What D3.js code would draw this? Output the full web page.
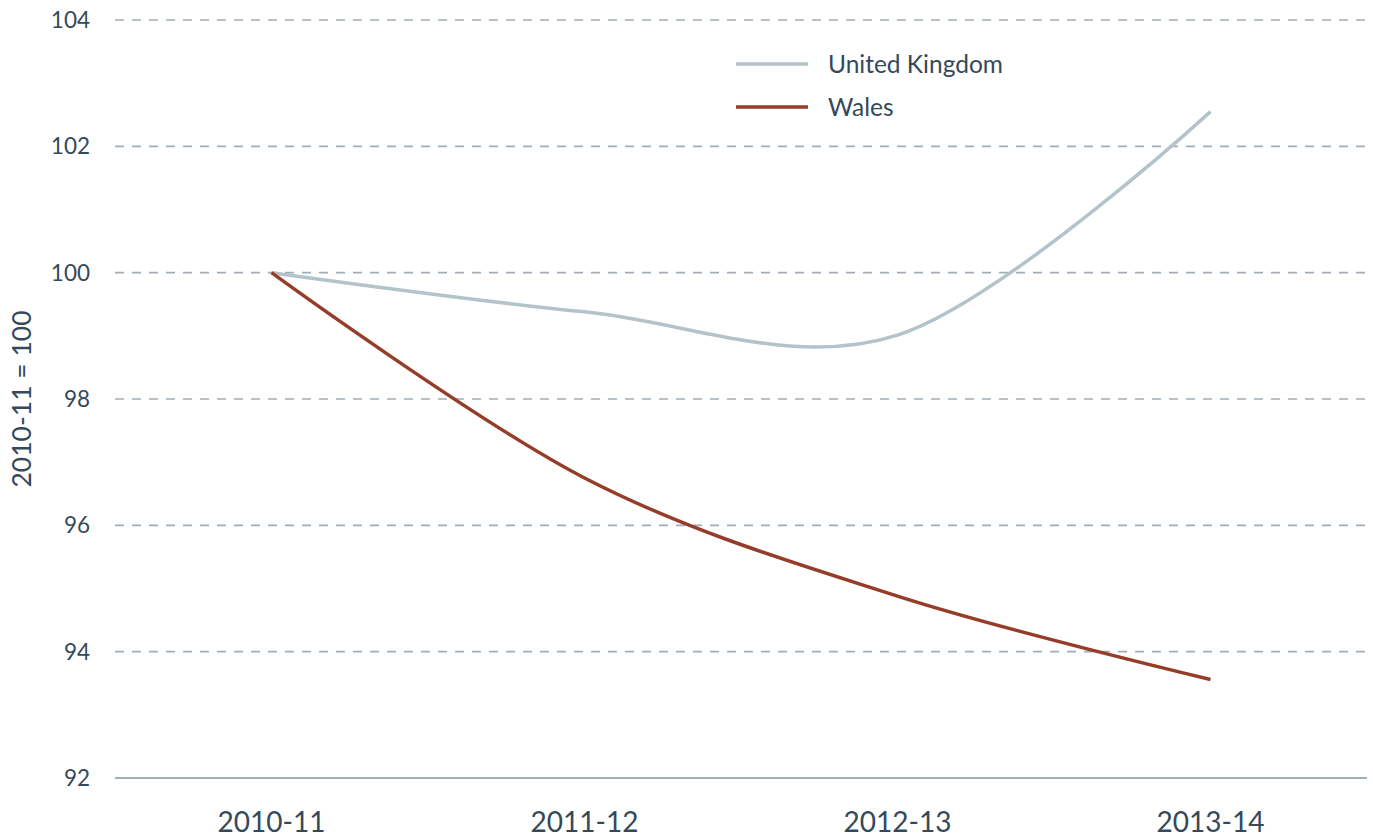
<!DOCTYPE html>
<html>
<head>
<meta charset="utf-8">
<script src="https://cdn.jsdelivr.net/npm/d3@7"></script>
<style>
  body { margin: 0; background: #fff; }
  svg { display: block; font-family: Lato, "Open Sans", sans-serif; font-weight: 400; }
</style>
</head>
<body>
<svg id="chart" width="1373" height="837"></svg>
<script>
const categories = ["2010-11", "2011-12", "2012-13", "2013-14"];
const ukValues = [100, 99.38, 99.01, 102.55];
const walesValues = [100, 96.75, 94.88, 93.56];
const yTicks = [92, 94, 96, 98, 100, 102, 104];
const seriesNames = ["United Kingdom", "Wales"];
const seriesColors = ["#b4c3ca", "#953d29"];

(function () {
const svg = d3.select("#chart");
const mLeft = 115, mRight = 1367, mTop = 20, mBottom = 778;
const textColor = "#34495a";

const x = d3.scalePoint().domain(categories).range([mLeft, mRight]).padding(0.5);
const y = d3.scaleLinear().domain([92, 104]).range([mBottom, mTop]);

// gridlines
svg.append("g").selectAll("line").data(yTicks).join("line")
  .attr("x1", mLeft).attr("x2", mRight)
  .attr("y1", d => y(d)).attr("y2", d => y(d))
  .attr("stroke", "#a0aeb7")
  .attr("stroke-width", d => d === 92 ? 2 : 1.6)
  .attr("stroke-dasharray", d => d === 92 ? null : "9,8");

// y tick labels
svg.append("g").selectAll("text").data(yTicks).join("text")
  .attr("x", 90).attr("y", d => y(d))
  .attr("dy", "0.35em")
  .attr("text-anchor", "end")
  .attr("fill", textColor)
  .attr("font-size", 22.5)
  .text(d => d);

// x tick labels
svg.append("g").selectAll("text").data(categories).join("text")
  .attr("x", d => x(d)).attr("y", 832)
  .attr("text-anchor", "middle")
  .attr("fill", textColor)
  .attr("font-size", 28)
  .text(d => d);

// y axis title
svg.append("text")
  .attr("transform", `translate(31,399) rotate(-90)`)
  .attr("text-anchor", "middle")
  .attr("fill", textColor)
  .attr("font-size", 26.5)
  .text("2010-11 = 100");

const line = d3.line()
  .x((d, i) => x(categories[i]))
  .y(d => y(d))
  .curve(d3.curveCardinal.tension(0));

const series = [ukValues, walesValues];
series.forEach((vals, i) => {
  svg.append("path")
    .datum(vals)
    .attr("d", line)
    .attr("fill", "none")
    .attr("stroke", seriesColors[i])
    .attr("stroke-width", 3.5);
});

// legend
const legend = svg.append("g");
seriesNames.forEach((name, i) => {
  const ly = 64 + i * 43;
  legend.append("line")
    .attr("x1", 736).attr("x2", 808)
    .attr("y1", ly).attr("y2", ly)
    .attr("stroke", seriesColors[i]).attr("stroke-width", 3.5);
  legend.append("text")
    .attr("x", 828).attr("y", ly)
    .attr("dy", "0.35em")
    .attr("fill", textColor)
    .attr("font-size", 24.5)
    .text(name);
});
})();
</script>
</body>
</html>
